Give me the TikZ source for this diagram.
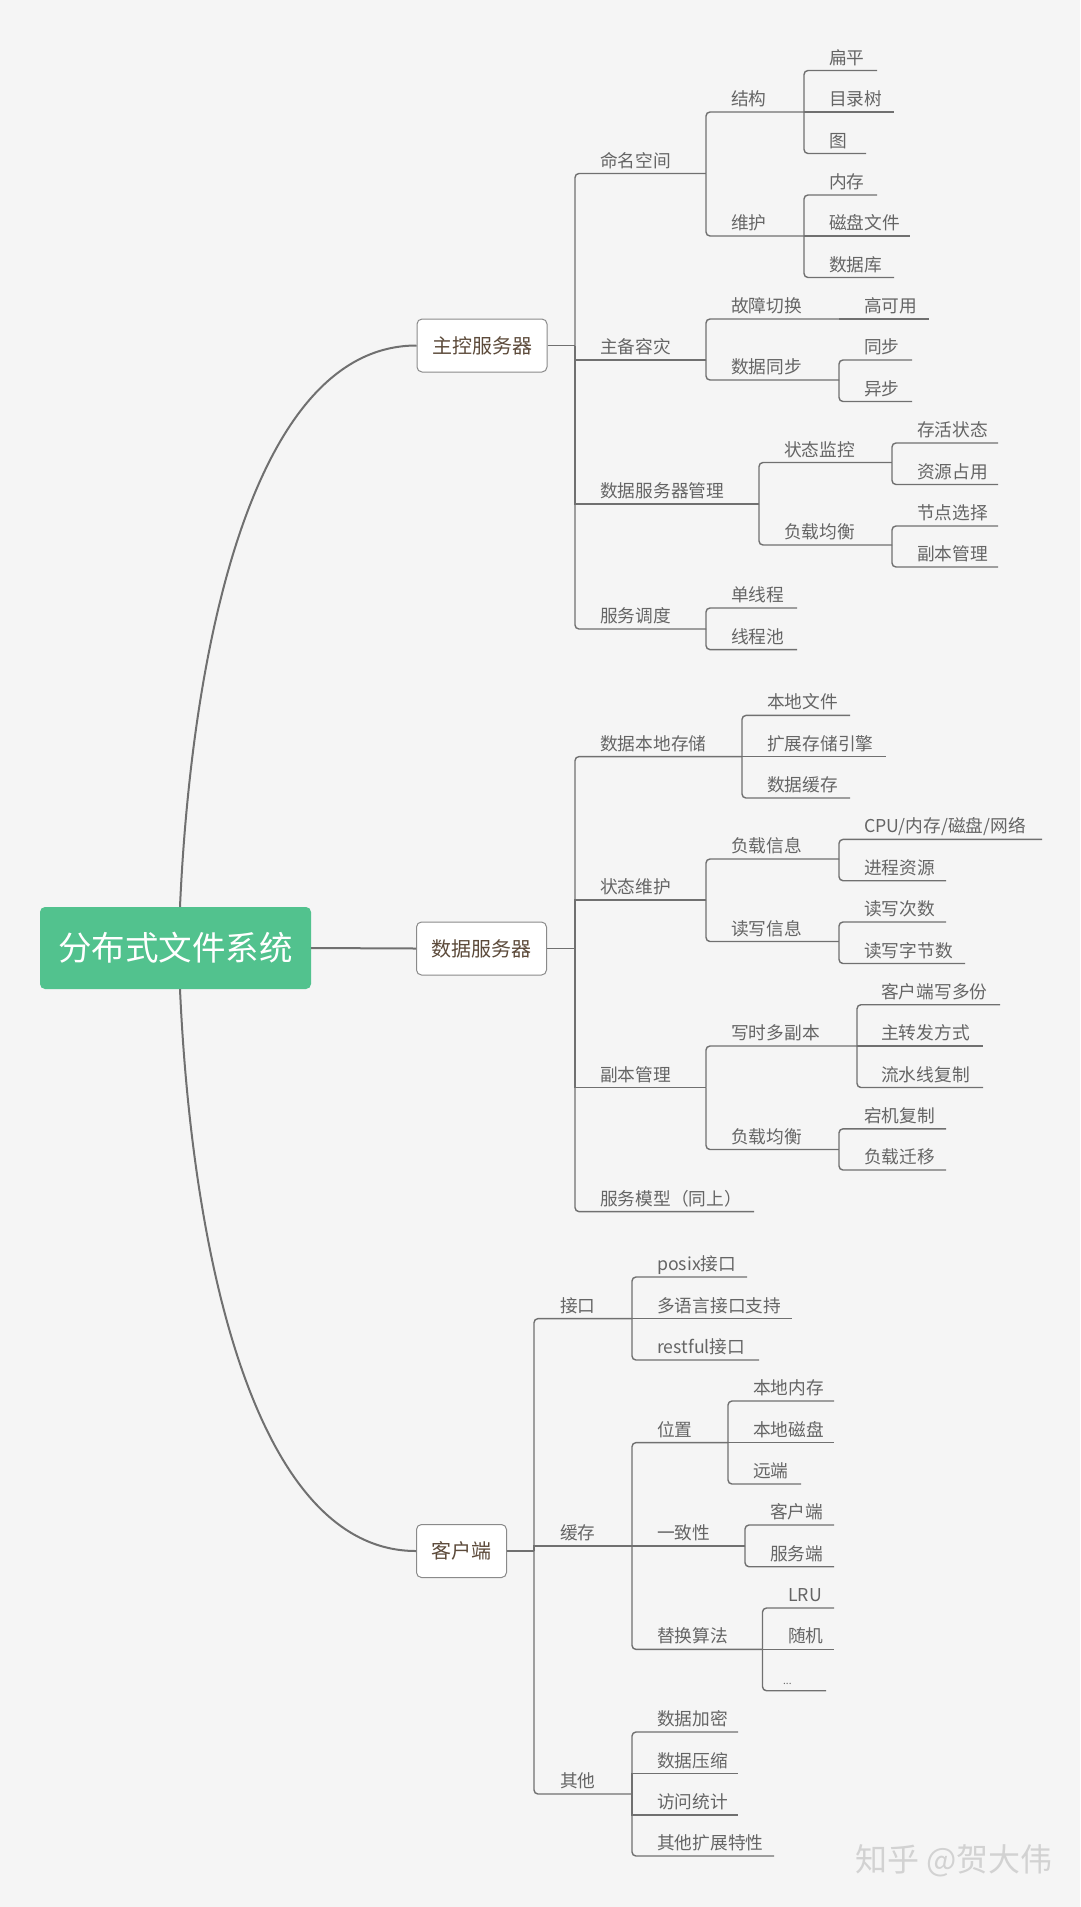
\documentclass[tikz,border=0pt]{standalone}
\usepackage{fontspec}
\newfontfamily\cjk{Noto Sans CJK SC}
\definecolor{bgc}{HTML}{F5F5F5}
\definecolor{linec}{HTML}{707070}
\definecolor{txtc}{HTML}{656565}
\definecolor{boxtxt}{HTML}{5C4A3A}
\definecolor{boxdraw}{HTML}{8A8A8A}
\definecolor{rootgreen}{HTML}{52C28E}
\definecolor{wmark}{HTML}{D2D2D2}
\tikzset{
  lbl/.style={anchor=base west, inner sep=0pt, yshift=6.5pt, font=\cjk\fontsize{17.7pt}{20pt}\selectfont, text=txtc},
  tree/.style={draw=linec, line width=1.4pt, rounded corners=4pt},
  mainl/.style={draw=linec, line width=2pt},
  boxnode/.style={draw=boxdraw, line width=1pt, fill=white, rounded corners=5pt, inner xsep=15pt, inner ysep=0pt, minimum height=53pt, font=\cjk\fontsize{20pt}{24pt}\selectfont, text=boxtxt},
  rootnode/.style={fill=rootgreen, rounded corners=5pt, minimum width=271pt, minimum height=82pt, inner sep=0pt, font=\cjk\fontsize{33.5pt}{38pt}\selectfont, text=white}
}
% #1 opts, #2 name, #3 parent junction, #4 text x, #5 underline y, #6 end x, #7 text
\newcommand\tbranch[7][]{%
  \node[lbl] (#2) at (#4,#5) {#7};
  \coordinate (#2e) at (#6,#5);
  \draw[tree,#1] (#3) |- (#2e);
}
\begin{document}
\begin{tikzpicture}[x=1pt,y=-1pt]
\useasboundingbox (0,0) rectangle (1080,1907);
\fill[bgc] (0,0) rectangle (1080,1907);

% main boxes
\node[rootnode] (root) at (175.5,948) {分布式文件系统};
\node[boxnode] (m1) at (482,345.5) {主控服务器};
\node[boxnode] (m2) at (481.5,948.5) {数据服务器};
\node[boxnode] (m3) at (461.5,1551) {客户端};

\draw[mainl] ([xshift=4.5pt]root.north) .. controls (192,640) and (255,345.5) .. (m1.west);
\draw[mainl] (root.east) -- (m2.west);
\draw[mainl] ([xshift=4.5pt]root.south) .. controls (192,1256) and (255,1551) .. (m3.west);

% ===== 主控服务器 =====
\coordinate (m1j) at (575,345.5);
\draw[tree] (m1.east) -- (m1j);
\tbranch{a1}{m1j}{600}{173.5}{706}{命名空间}
\tbranch[sharp corners]{a2}{m1j}{600}{360}{706}{主备容灾}
\tbranch[sharp corners]{a3}{m1j}{600}{504}{759}{数据服务器管理}
\tbranch{a4}{m1j}{600}{629}{706}{服务调度}

\tbranch{b1}{a1e}{731}{112}{804}{结构}
\tbranch{b2}{a1e}{731}{236}{804}{维护}
\tbranch{c1}{b1e}{829}{70.5}{877}{扁平}
\tbranch[sharp corners]{c2}{b1e}{829}{112}{894}{目录树}
\tbranch{c3}{b1e}{829}{153.5}{866}{图}
\tbranch{c4}{b2e}{829}{195}{877}{内存}
\tbranch[sharp corners]{c5}{b2e}{829}{236}{910}{磁盘文件}
\tbranch{c6}{b2e}{829}{277.5}{894}{数据库}

\tbranch{b3}{a2e}{731}{319}{839}{故障切换}
\tbranch{b4}{a2e}{731}{380}{839}{数据同步}
\tbranch[sharp corners]{c7}{b3e}{864}{319}{929}{高可用}
\tbranch{c8}{b4e}{864}{360}{912}{同步}
\tbranch{c9}{b4e}{864}{401.5}{912}{异步}

\tbranch{b5}{a3e}{784}{462.5}{892}{状态监控}
\tbranch{b6}{a3e}{784}{545}{892}{负载均衡}
\tbranch{c10}{b5e}{917}{443}{998}{存活状态}
\tbranch{c11}{b5e}{917}{484.5}{998}{资源占用}
\tbranch{c12}{b6e}{917}{526}{998}{节点选择}
\tbranch{c13}{b6e}{917}{567}{998}{副本管理}

\tbranch{b7}{a4e}{731}{608}{797}{单线程}
\tbranch{b8}{a4e}{731}{649.6}{797}{线程池}

% ===== 数据服务器 =====
\coordinate (m2j) at (575,948.5);
\draw[tree] (m2.east) -- (m2j);
\tbranch{d1}{m2j}{600}{756.6}{742}{数据本地存储}
\tbranch[sharp corners]{d2}{m2j}{600}{900}{706}{状态维护}
\tbranch[sharp corners]{d3}{m2j}{600}{1087.5}{706}{副本管理}
\tbranch{d4}{m2j}{600}{1211.6}{754}{服务模型（同上）}

\tbranch{e1}{d1e}{767}{715.4}{850}{本地文件}
\tbranch[sharp corners]{e2}{d1e}{767}{756.6}{886}{扩展存储引擎}
\tbranch{e3}{d1e}{767}{798}{850}{数据缓存}

\tbranch{e4}{d2e}{731}{859}{839}{负载信息}
\tbranch{e5}{d2e}{731}{941.5}{839}{读写信息}
\tbranch{f1}{e4e}{864}{839.4}{1042}{CPU/内存/磁盘/网络}
\tbranch{f2}{e4e}{864}{880.7}{946}{进程资源}
\tbranch{f3}{e5e}{864}{922}{946}{读写次数}
\tbranch{f4}{e5e}{864}{963.5}{965}{读写字节数}

\tbranch{e6}{d3e}{731}{1046}{857}{写时多副本}
\tbranch{e7}{d3e}{731}{1149.5}{839}{负载均衡}
\tbranch{f5}{e6e}{881}{1004.7}{1000}{客户端写多份}
\tbranch[sharp corners]{f6}{e6e}{881}{1046}{983}{主转发方式}
\tbranch{f7}{e6e}{881}{1087.5}{983}{流水线复制}
\tbranch{f8}{e7e}{864}{1128.8}{946}{宕机复制}
\tbranch{f9}{e7e}{864}{1170}{946}{负载迁移}

% ===== 客户端 =====
\coordinate (m3j) at (534,1551);
\draw[tree] (m3.east) -- (m3j);
\tbranch{g1}{m3j}{560}{1318.6}{632}{接口}
\tbranch[sharp corners]{g2}{m3j}{560}{1546}{632}{缓存}
\tbranch{g3}{m3j}{560}{1794}{632}{其他}

\tbranch{h1}{g1e}{657}{1277}{747}{posix接口}
\tbranch[sharp corners]{h2}{g1e}{657}{1318.6}{792}{多语言接口支持}
\tbranch{h3}{g1e}{657}{1360}{759}{restful接口}

\tbranch{h4}{g2e}{657}{1442.6}{728}{位置}
\tbranch[sharp corners]{h5}{g2e}{657}{1546}{745}{一致性}
\tbranch{h6}{g2e}{657}{1649.4}{762.5}{替换算法}

\tbranch{i1}{h4e}{753}{1401}{834}{本地内存}
\tbranch[sharp corners]{i2}{h4e}{753}{1442.6}{834}{本地磁盘}
\tbranch{i3}{h4e}{753}{1484}{801}{远端}
\tbranch{i4}{h5e}{770}{1525}{834}{客户端}
\tbranch{i5}{h5e}{770}{1566.7}{834}{服务端}
\tbranch{i6}{h6e}{788}{1608}{834}{LRU}
\tbranch[sharp corners]{i7}{h6e}{788}{1649.4}{834}{随机}
\tbranch{i8}{h6e}{783}{1690.7}{826}{\fontsize{10pt}{12pt}\selectfont ...}

\tbranch{h7}{g3e}{657}{1732}{738}{数据加密}
\tbranch[sharp corners]{h8}{g3e}{657}{1773.5}{738}{数据压缩}
\tbranch[sharp corners]{h9}{g3e}{657}{1815}{738}{访问统计}
\tbranch{h10}{g3e}{657}{1856}{774}{其他扩展特性}

% watermark
\node[anchor=west, inner sep=0pt, font=\cjk\fontsize{32pt}{36pt}\selectfont, text=wmark] (wm) at (855,1861) {知乎 @贺大伟};
\end{tikzpicture}
\end{document}
